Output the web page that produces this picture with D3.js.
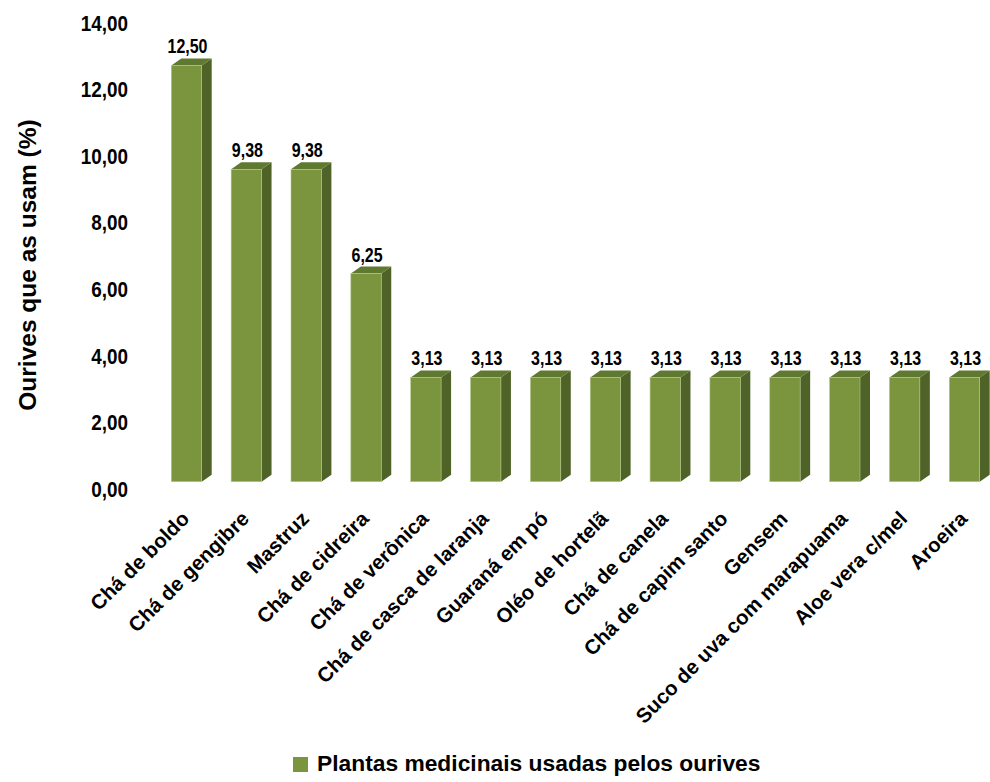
<!DOCTYPE html>
<html><head><meta charset="utf-8">
<script src="https://cdn.jsdelivr.net/npm/d3@7"></script>
<style>body{margin:0;background:#fff}svg{display:block}</style>
</head><body>
<script>
const categories = ["Chá de boldo","Chá de gengibre","Mastruz","Chá de cidreira","Chá de verônica","Chá de casca de laranja","Guaraná em pó","Oléo de hortelã","Chá de canela","Chá de capim santo","Gensem","Suco de uva com marapuama","Aloe vera c/mel","Aroeira"];
const values = [12.50, 9.38, 9.38, 6.25, 3.13, 3.13, 3.13, 3.13, 3.13, 3.13, 3.13, 3.13, 3.13, 3.13];
const yTicks = [0, 2, 4, 6, 8, 10, 12, 14];
const seriesName = "Plantas medicinais usadas pelos ourives";
const yTitle = "Ourives que as usam (%)";

const W = 990, H = 782;
const svg = d3.select("body").append("svg").attr("width", W).attr("height", H);
const fmt = v => v.toFixed(2).replace(".", ",");

const x = d3.scalePoint().domain(categories).range([186.5, 964.5]);
const y = d3.scaleLinear().domain([0, 14]).range([481.7, 15.5]);
const bw = 30.4, dx = 10, dy = 7;

const sans = "'Liberation Sans',Arial,sans-serif";

// y tick labels (condensed look)
const yAxis = d3.axisLeft(y).tickValues(yTicks).tickFormat(fmt).tickSize(0).tickPadding(0);
const ga = svg.append("g").attr("transform", "translate(0,7)").call(yAxis);
ga.select(".domain").remove();
ga.selectAll(".tick").attr("transform", d => `translate(128,${y(d)}) scale(0.84,1)`);
ga.selectAll("text").attr("font-family", sans).attr("font-weight", "bold").attr("font-size", 22.5)
  .attr("fill", "#000").attr("dy", "0.36em");

// y title
svg.append("text").attr("transform", "translate(36,265) rotate(-90)")
  .attr("text-anchor", "middle").attr("font-family", sans).attr("font-weight", "bold")
  .attr("font-size", 24.5).text(yTitle);

// bars
const g = svg.append("g");
const bars = g.selectAll("g.bar").data(categories.map((c, i) => ({c, v: values[i]}))).join("g");
bars.append("path").attr("fill", "#4f6228").attr("d", d => {
  const x1 = x(d.c) + bw / 2, y0 = y(0), y1 = y(d.v);
  return `M${x1},${y0}L${x1+dx},${y0-dy}L${x1+dx},${y1-dy}L${x1},${y1}Z`;
});
bars.append("path").attr("fill", "#5f7a30").attr("d", d => {
  const x0 = x(d.c) - bw / 2, x1 = x(d.c) + bw / 2, y1 = y(d.v);
  return `M${x0},${y1}L${x0+dx},${y1-dy}L${x1+dx},${y1-dy}L${x1},${y1}Z`;
});
bars.append("rect").attr("fill", "#7a953d").attr("stroke", "#b5c98e").attr("stroke-width", 0.6)
  .attr("x", d => x(d.c) - bw / 2).attr("width", bw)
  .attr("y", d => y(d.v)).attr("height", d => y(0) - y(d.v));
bars.append("text")
  .attr("transform", d => `translate(${x(d.c) + 1},${y(d.v) - dy - 5}) scale(0.82,1)`)
  .attr("text-anchor", "middle").attr("font-family", sans).attr("font-weight", "bold")
  .attr("font-size", 19.5).text(d => fmt(d.v));

// category labels
svg.append("g").selectAll("text").data(categories).join("text")
  .attr("transform", c => `translate(${x(c) + 4},${520}) rotate(-45)`)
  .attr("text-anchor", "end").attr("font-family", sans).attr("font-weight", "bold")
  .attr("font-size", 20.5).text(c => c);

// legend
svg.append("rect").attr("x", 293).attr("y", 757).attr("width", 15).attr("height", 15).attr("fill", "#7a953d");
svg.append("text").attr("x", 317).attr("y", 771).attr("font-family", sans).attr("font-weight", "bold")
  .attr("font-size", 22.8).text(seriesName);
</script>
</body></html>
